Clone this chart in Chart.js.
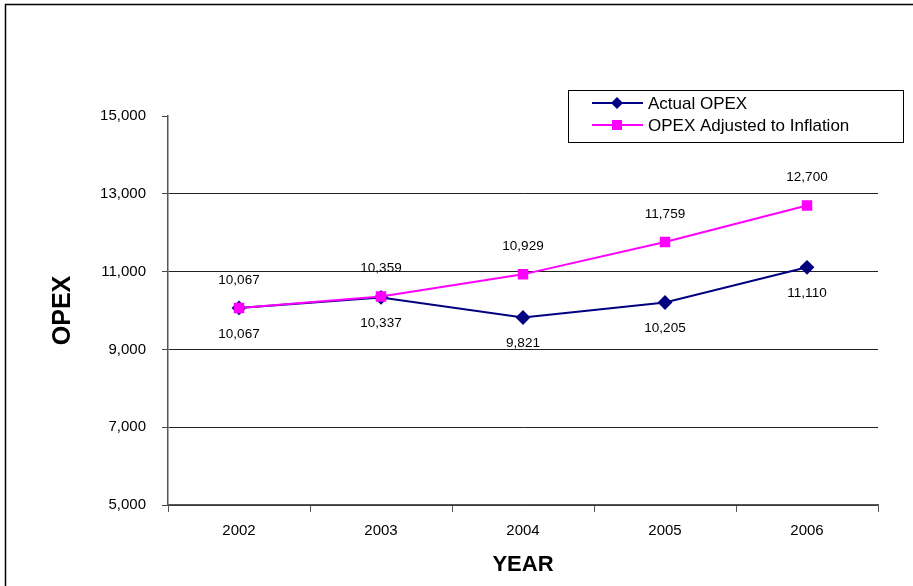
<!DOCTYPE html>
<html>
<head>
<meta charset="utf-8">
<script src="https://cdn.jsdelivr.net/npm/chart.js@4/dist/chart.umd.min.js"></script>
<style>
html,body{margin:0;padding:0;background:#fff;}
#wrap{width:913px;height:586px;position:relative;}
</style>
</head>
<body>
<div id="wrap"><canvas id="c" width="913" height="586"></canvas></div>
<script>
const years = ['2002','2003','2004','2005','2006'];
const actualOpex = [10067, 10337, 9821, 10205, 11110];
const adjustedOpex = [10067, 10359, 10929, 11759, 12700];
const seriesNames = ['Actual OPEX', 'OPEX Adjusted to Inflation'];
const yTicks = [5000, 7000, 9000, 11000, 13000, 15000];

const FONT = '"Liberation Sans", Arial, sans-serif';
const fmt = v => v.toLocaleString('en-US');

const framePlugin = {
  id: 'frame',
  beforeDraw(chart) {
    const ctx = chart.ctx;
    ctx.save();
    ctx.fillStyle = '#fff';
    ctx.fillRect(0, 0, chart.width, chart.height);
    ctx.strokeStyle = '#000';
    ctx.lineWidth = 1.5;
    ctx.strokeRect(5.5, 4.5, 920, 600);
    ctx.restore();
  }
};

const labelPlugin = {
  id: 'valueLabels',
  afterDatasetsDraw(chart) {
    const ctx = chart.ctx;
    ctx.save();
    ctx.font = '13.5px ' + FONT;
    ctx.fillStyle = '#000';
    ctx.textAlign = 'center';
    ctx.textBaseline = 'middle';
    chart.data.datasets.forEach((ds, di) => {
      const meta = chart.getDatasetMeta(di);
      meta.data.forEach((pt, i) => {
        const off = di === 0 ? 26 : -28;
        ctx.fillText(fmt(ds.data[i]), pt.x, pt.y + off);
      });
    });
    ctx.restore();
  }
};

const legendPlugin = {
  id: 'boxLegend',
  afterDraw(chart) {
    const ctx = chart.ctx;
    ctx.save();
    const x0 = 568, y0 = 90, w = 335, h = 52;
    ctx.fillStyle = '#fff';
    ctx.fillRect(x0, y0, w, h);
    ctx.strokeStyle = '#000';
    ctx.lineWidth = 1;
    ctx.strokeRect(x0 + 0.5, y0 + 0.5, w, h);
    ctx.font = '17px ' + FONT;
    ctx.textBaseline = 'middle';
    ctx.textAlign = 'left';
    chart.data.datasets.forEach((ds, i) => {
      const y = y0 + 13 + i * 22;
      ctx.strokeStyle = ds.borderColor;
      ctx.lineWidth = 2;
      ctx.beginPath();
      ctx.moveTo(592, y);
      ctx.lineTo(643, y);
      ctx.stroke();
      ctx.fillStyle = ds.borderColor;
      if (ds.pointStyle === 'rectRot') {
        ctx.beginPath();
        ctx.moveTo(617, y - 6);
        ctx.lineTo(623, y);
        ctx.lineTo(617, y + 6);
        ctx.lineTo(611, y);
        ctx.closePath();
        ctx.fill();
      } else {
        ctx.fillRect(612, y - 5, 10, 10);
      }
      ctx.fillStyle = '#000';
      ctx.fillText(ds.label, 648, y + 1);
    });
    ctx.restore();
  }
};

new Chart(document.getElementById('c'), {
  type: 'line',
  data: {
    labels: years,
    datasets: [
      {
        label: seriesNames[0],
        data: actualOpex,
        borderColor: '#000080',
        backgroundColor: '#000080',
        borderWidth: 2,
        pointStyle: 'rectRot',
        pointRadius: 6,
        pointHoverRadius: 6,
        tension: 0,
        order: 1
      },
      {
        label: seriesNames[1],
        data: adjustedOpex,
        borderColor: '#FF00FF',
        backgroundColor: '#FF00FF',
        borderWidth: 2,
        pointStyle: 'rect',
        pointRadius: 6,
        pointHoverRadius: 6,
        tension: 0,
        order: 0
      }
    ]
  },
  options: {
    responsive: false,
    animation: false,
    devicePixelRatio: 1,
    layout: { padding: { top: 116, right: 35, left: 48, bottom: 0 } },
    plugins: {
      legend: { display: false },
      tooltip: { enabled: false },
      title: { display: false }
    },
    scales: {
      x: {
        offset: true,
        grid: {
          offset: true,
          drawOnChartArea: false,
          drawTicks: true,
          tickLength: 7,
          tickColor: '#555',
          color: '#555'
        },
        border: { display: true, color: '#555', width: 1.5 },
        ticks: {
          color: '#000',
          font: { family: FONT, size: 15 },
          padding: 10
        },
        title: {
          display: true,
          text: 'YEAR',
          color: '#000',
          font: { family: FONT, size: 22, weight: 'bold' },
          padding: { top: 2, bottom: 8 }
        },
        afterFit(scale) { scale.height = 81; }
      },
      y: {
        min: 5000,
        max: 15000,
        afterBuildTicks(scale) { scale.ticks = yTicks.map(v => ({ value: v })); },
        grid: {
          color: ctx => (ctx.tick && ctx.tick.value === 15000) ? 'rgba(0,0,0,0)' : '#222',
          tickColor: '#444',
          tickLength: 6,
          lineWidth: 1
        },
        border: { display: true, color: '#555', width: 1.5 },
        ticks: {
          color: '#000',
          font: { family: FONT, size: 15 },
          padding: 16,
          callback: v => fmt(v)
        },
        title: {
          display: true,
          text: 'OPEX',
          color: '#000',
          font: { family: FONT, size: 25, weight: 'bold' },
          padding: { top: 0, bottom: 0 }
        },
        afterFit(scale) { scale.width = 120; }
      }
    }
  },
  plugins: [framePlugin, labelPlugin, legendPlugin]
});
</script>
</body>
</html>
